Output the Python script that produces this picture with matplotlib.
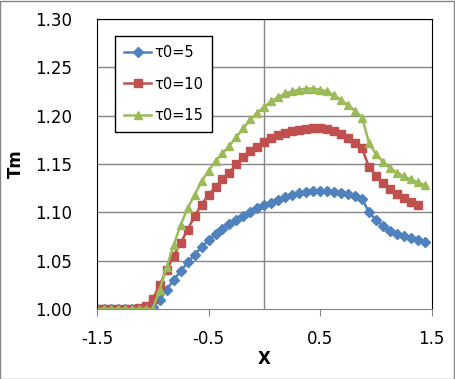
import numpy as np
import matplotlib
matplotlib.use("Agg")
import matplotlib.pyplot as plt
from matplotlib.patches import Rectangle

# x positions (step 1/16)
x = [-1.5, -1.4375, -1.375, -1.3125, -1.25, -1.1875, -1.125, -1.0625,
     -1.0, -0.9375, -0.875, -0.8125, -0.75, -0.6875, -0.625, -0.5625,
     -0.5, -0.4375, -0.375, -0.3125, -0.25, -0.1875, -0.125, -0.0625,
     0.0, 0.0625, 0.125, 0.1875, 0.25, 0.3125, 0.375, 0.4375,
     0.5, 0.5625, 0.625, 0.6875, 0.75, 0.8125, 0.875, 0.9375,
     1.0, 1.0625, 1.125, 1.1875, 1.25, 1.3125, 1.375, 1.4375]

tm_5 = [1.0, 1.0, 1.0, 1.0, 1.0, 1.0, 1.0, 1.0,
        1.002, 1.009, 1.020, 1.030, 1.039, 1.048, 1.056, 1.064,
        1.071, 1.077, 1.083, 1.088, 1.092, 1.096, 1.100, 1.104,
        1.107, 1.110, 1.113, 1.116, 1.118, 1.120, 1.121, 1.122,
        1.122, 1.122, 1.121, 1.120, 1.119, 1.117, 1.114, 1.100,
        1.092, 1.086, 1.081, 1.078, 1.075, 1.073, 1.071, 1.069]

tm_10 = [1.0, 1.0, 1.0, 1.0, 1.0, 1.0, 1.001, 1.003,
         1.010, 1.025, 1.040, 1.055, 1.068, 1.082, 1.096, 1.108,
         1.118, 1.126, 1.134, 1.141, 1.150, 1.157, 1.163, 1.168,
         1.173, 1.177, 1.180, 1.182, 1.184, 1.185, 1.186, 1.187,
         1.187, 1.186, 1.184, 1.181, 1.177, 1.172, 1.166, 1.147,
         1.138, 1.130, 1.124, 1.119, 1.115, 1.111, 1.108]

tm_15 = [1.0, 1.0, 1.0, 1.0, 1.0, 1.0, 1.0, 1.0,
         1.0, 1.020, 1.043, 1.066, 1.087, 1.104, 1.118, 1.132,
         1.143, 1.153, 1.161, 1.169, 1.178, 1.187, 1.196, 1.203,
         1.209, 1.215, 1.219, 1.223, 1.225, 1.227, 1.228, 1.228,
         1.227, 1.225, 1.221, 1.216, 1.211, 1.205, 1.198, 1.172,
         1.160, 1.152, 1.146, 1.141, 1.137, 1.134, 1.131, 1.128]

labels = ["τ0=5", "τ0=10", "τ0=15"]
yticks = [1.00, 1.05, 1.10, 1.15, 1.20, 1.25, 1.30]
xticks = [-1.5, -0.5, 0.5, 1.5]

fig = plt.figure(figsize=(4.55, 3.79), dpi=100)
ax = fig.add_axes([0.213, 0.185, 0.736, 0.765])

ax.plot(x, tm_5, color="#4F81BD", lw=1.8, marker="D", ms=4.6, label=labels[0])
ax.plot(x[:len(tm_10)], tm_10, color="#C0504D", lw=1.8, marker="s", ms=5.6, label=labels[1])
ax.plot(x, tm_15, color="#9BBB59", lw=1.8, marker="^", ms=6.4, label=labels[2])

ax.set_xlim(-1.5, 1.5)
ax.set_ylim(1.0, 1.3)
ax.set_yticks(yticks)
ax.set_yticklabels([f"{v:.2f}" for v in yticks])
ax.set_xticks(xticks)
ax.set_xticklabels([f"{v:.1f}" for v in xticks])

for v in yticks[1:]:
    ax.axhline(v, color="#868686", lw=1, zorder=0)
ax.axvline(0, color="#868686", lw=1, zorder=0)

ax.tick_params(axis="y", length=0, pad=18, labelsize=12)
ax.tick_params(axis="x", length=5, color="#868686", pad=10, labelsize=12)
for s in ["left", "top", "right"]:
    ax.spines[s].set_color("black")
ax.spines["bottom"].set_color("#868686")

ax.set_ylabel("Tm", fontsize=12, fontweight="bold", labelpad=7)
ax.set_xlabel("X", fontsize=12, fontweight="bold", labelpad=2)

leg = ax.legend(loc="upper left", bbox_to_anchor=(0.054, 0.941), fontsize=10.5,
                frameon=True, fancybox=False, edgecolor="black",
                labelspacing=1.15, handlelength=1.9, handletextpad=0.2,
                borderpad=0.6, borderaxespad=0, framealpha=1)
leg.get_frame().set_linewidth(1)

fig.add_artist(Rectangle((0.001, 0.001), 0.997, 0.997, transform=fig.transFigure,
                         fill=False, edgecolor="#868686", lw=1))

fig.savefig("out.png", dpi=100)
